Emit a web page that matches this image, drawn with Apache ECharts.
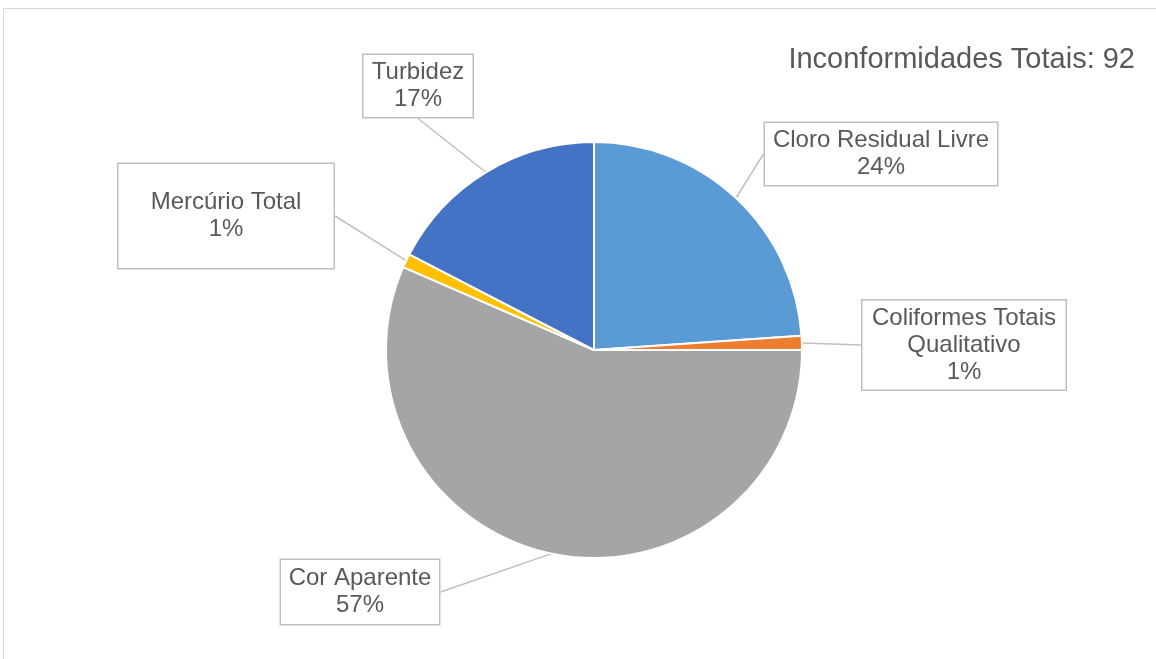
<!DOCTYPE html>
<html>
<head>
<meta charset="utf-8">
<script src="https://cdn.jsdelivr.net/npm/echarts@6/dist/echarts.min.js"></script>
<style>
html,body{margin:0;padding:0;background:#fff;width:1156px;height:659px;overflow:hidden;}
#frame{position:absolute;left:3px;top:8px;width:1170px;height:670px;border:1px solid #d9d9d9;box-sizing:border-box;}
#chart{position:absolute;left:0;top:0;width:1156px;height:659px;}
</style>
</head>
<body>
<div id="frame"></div>
<div id="chart"></div>
<script>
// ---- data ----
const categories = ['Cloro Residual Livre', 'Coliformes Totais\nQualitativo', 'Cor Aparente', 'Mercúrio Total', 'Turbidez'];
const values = [22, 1, 52, 1, 16];
const totalLabel = 'Inconformidades Totais: 92';

// ---- styles / layout (not data) ----
const colors = ['#5B9BD5', '#ED7D31', '#A5A5A5', '#FFC000', '#4472C4'];
const boxWidths = [232, 203, 158, 215, 109];
const boxPadV = [4, 4, 5, 25, 4];
const labelCenters = [[881, 154], [964, 345], [360, 592], [226, 216], [418, 86]];

const chart = echarts.init(document.getElementById('chart'), null, {renderer: 'canvas'});
const data = categories.map((n, i) => ({
  name: n,
  value: values[i],
  itemStyle: {color: colors[i]},
  label: {width: boxWidths[i], padding: [boxPadV[i], 0, boxPadV[i], 0]}
}));

chart.setOption({
  animation: false,
  title: {
    text: totalLabel,
    right: 16,
    top: 40,
    textStyle: {fontFamily: '"Liberation Sans", Arial, sans-serif', fontSize: 29, fontWeight: 'normal', color: '#595959'}
  },
  series: [{
    type: 'pie',
    center: [594, 350],
    radius: 208,
    startAngle: 90,
    clockwise: true,
    avoidLabelOverlap: false,
    percentPrecision: 0,
    itemStyle: {borderColor: '#fff', borderWidth: 2},
    label: {
      show: true,
      position: 'outside',
      formatter: '{b}\n{d}%',
      fontFamily: '"Liberation Sans", Arial, sans-serif',
      fontSize: 24,
      lineHeight: 27,
      color: '#595959',
      backgroundColor: '#fff',
      borderColor: '#bfbfbf',
      borderWidth: 1.5,
      align: 'center'
    },
    labelLine: {show: true, length: 10, length2: 0, smooth: false, lineStyle: {color: '#bfbfbf', width: 1.5}},
    labelLayout: function (p) {
      const c = labelCenters[p.dataIndex];
      return {x: c[0], y: c[1], align: 'center', verticalAlign: 'middle'};
    },
    emphasis: {disabled: true},
    data: data
  }]
});
</script>
</body>
</html>
